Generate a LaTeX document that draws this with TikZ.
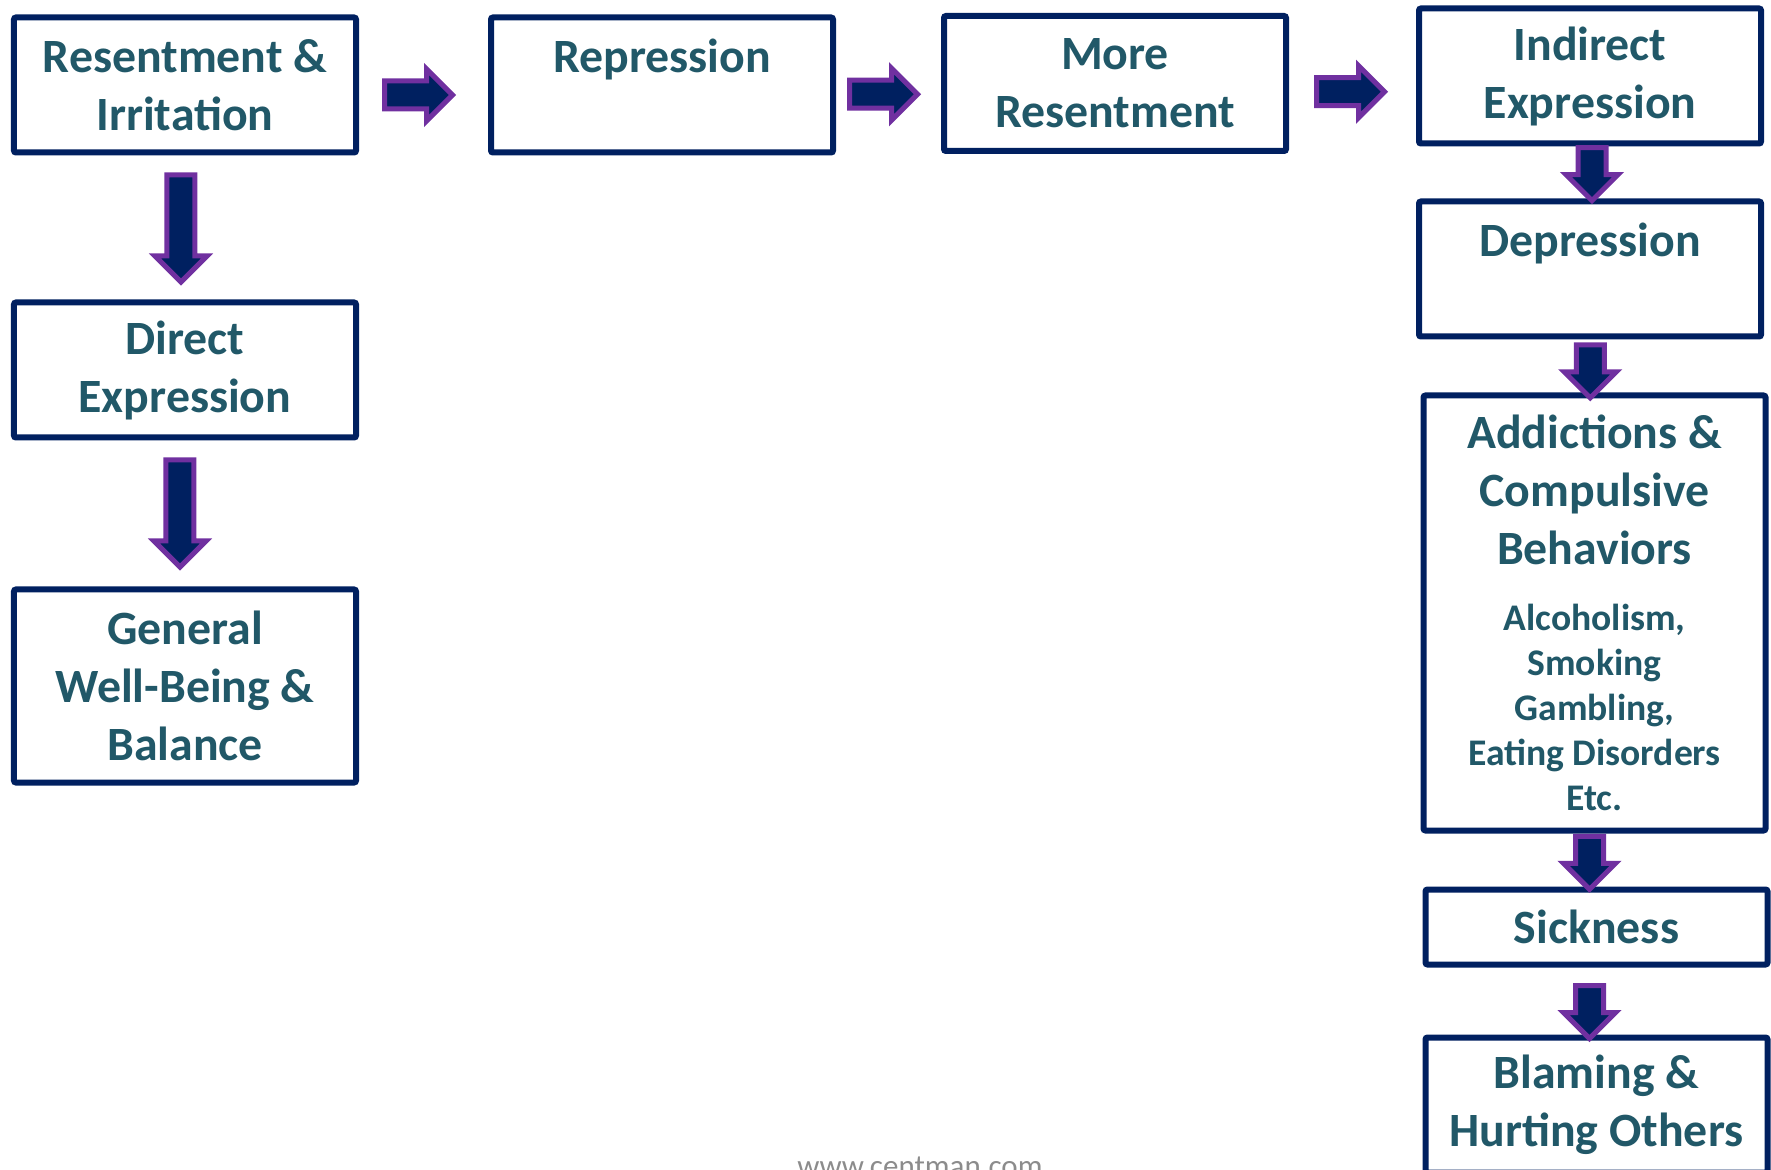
\documentclass[tikz,border=0pt]{standalone}
\usepackage{fontspec}
\setmainfont{Carlito}
\usetikzlibrary{shapes.arrows,positioning,calc}
\definecolor{boxline}{HTML}{002060}
\definecolor{arrowedge}{HTML}{7030A0}
\definecolor{labeltext}{HTML}{215868}
\definecolor{webgray}{HTML}{8C8C8C}
\tikzset{
stage/.style={rectangle, rounded corners=1pt, draw=boxline, line width=3pt, fill=white, text=labeltext, font=\fontsize{23.9}{29}\selectfont\bfseries, text width=165pt, inner xsep=3pt, align=flush center, minimum height=67.5pt},
flow/.style={single arrow, draw=arrowedge, fill=boxline, line width=2.5pt, inner xsep=0pt, inner ysep=5.75pt, minimum width=23.5pt, single arrow head extend=6pt},
flowright/.style={flow, minimum height=34pt},
flowdown/.style={flow, rotate=-90, minimum height=#1}
}

\begin{document}
\begin{tikzpicture}
\useasboundingbox (-92.5pt,-542.5pt) rectangle (793pt,42.5pt);

% left column
\node[stage] (res) at (0,0) {Resentment \&\\Irritation};
\node[stage] (dir) [below=72pt of res] {Direct\\Expression};
\node[stage,minimum height=96.5pt] (gen) [below=73pt of dir] {General\\Well-Being \&\\Balance};

% top row
\node[stage] (rep) [right=64.5pt of res] {Repression\\\mbox{}};
\node[stage] (more) [right=52.5pt of rep,yshift=0.75pt] {More\\Resentment};
\node[stage] (ind) [right=63.5pt of more,yshift=3.75pt] {Indirect\\Expression};

% right column
\node[stage] (dep) [below=26pt of ind] {Depression\\\mbox{}};
\node[stage,minimum height=217.5pt] (add) [below=26.5pt of dep,xshift=2.25pt] {Addictions \&\\Compulsive\\Behaviors\par\vspace{10.5pt}
  \fontsize{18.8}{22.5}\selectfont Alcoholism,\\Smoking\\Gambling,\\Eating Disorders\\Etc.\par};
\node[stage,minimum height=37.5pt] (sick) [below=26.5pt of add,xshift=1pt] {Sickness};
\node[stage] (blame) [below=33.5pt of sick] {Blaming \&\\Hurting Others};

% block arrows
\foreach \from/\to/\n/\dx/\dy in {res/rep/1/-6pt/-5pt, rep/more/2/-6pt/-5pt, more/ind/3/-4.5pt/-6pt}
  \node[flowright] (r\n) at ($(\from.east)!0.5!(\to.west)+(\dx,\dy)$) {};

\node[flowdown=53.5pt] (d1) at ($(res.south)!0.5!(dir.north)+(-2pt,3pt)$) {};
\node[flowdown=53.5pt] (d2) at ($(dir.south)!0.5!(gen.north)+(-2.5pt,3.5pt)$) {};

\foreach \from/\to/\n/\dx/\dy in {ind/dep/3/1pt/2.7pt, dep/add/4/-1pt/0.8pt, add/sick/5/-3pt/2.1pt, sick/blame/6/-3.5pt/-2pt}
  \node[flowdown=26.5pt] (d\n) at ($(\from.south)!0.5!(\to.north)+(\dx,\dy)$) {};

\node[text=webgray, font=\fontsize{15.5}{18}\selectfont, anchor=base] (web) at (367.5pt,-545.8pt) {www.centman.com};
\end{tikzpicture}
\end{document}
